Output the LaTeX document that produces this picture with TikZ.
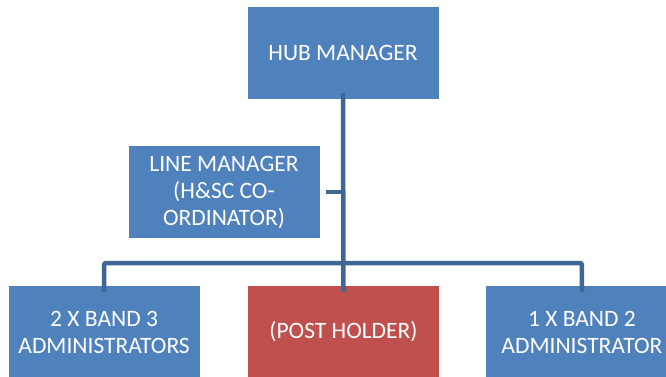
\documentclass[tikz,border=0pt]{standalone}
\usepackage{fontspec}
\setmainfont{Carlito}
\usepackage{tikz}
\usetikzlibrary{positioning}

\begin{document}
\begin{tikzpicture}[x=1pt,y=-1pt,
    post/.style={fill=#1, text=white, minimum width=191pt, minimum height=92pt, inner sep=2pt, align=center, font=\fontsize{23.5}{27}\selectfont},
    post/.default=boxblue,
    link/.style={draw=lineblue, line width=4.5pt, rounded corners=2pt}]
\definecolor{boxblue}{HTML}{4F81BD}
\definecolor{boxred}{HTML}{C0504D}
\definecolor{lineblue}{HTML}{3F6796}
\useasboundingbox (0,0) rectangle (666,376);
    \node (Hub) [post] at (343,53) {HUB MANAGER};
    \node (Line) [post] at (224,192) {LINE MANAGER\\(H\&SC CO-\\ORDINATOR)};
    \node (Post) [post=boxred] at (343.5,332) {(POST HOLDER)};
    \node (BandThree) [post, left=48pt of Post] {2 X BAND 3\\ADMINISTRATORS};
    \node (BandTwo) [post, right=47pt of Post] {1 X BAND 2\\ADMINISTRATOR};
    \coordinate (Split) at (343,263);
    \coordinate (Tick) at (343,192);
    \draw[link] ([yshift=6pt]Hub.south) -- ([yshift=-6pt]Post.north);
    \draw[link] ([xshift=6pt]Line.east) -- (Tick);
    \draw[link] ([yshift=-6pt]BandThree.north) |- (Split) -| ([yshift=-6pt]BandTwo.north);
\end{tikzpicture}
\end{document}
